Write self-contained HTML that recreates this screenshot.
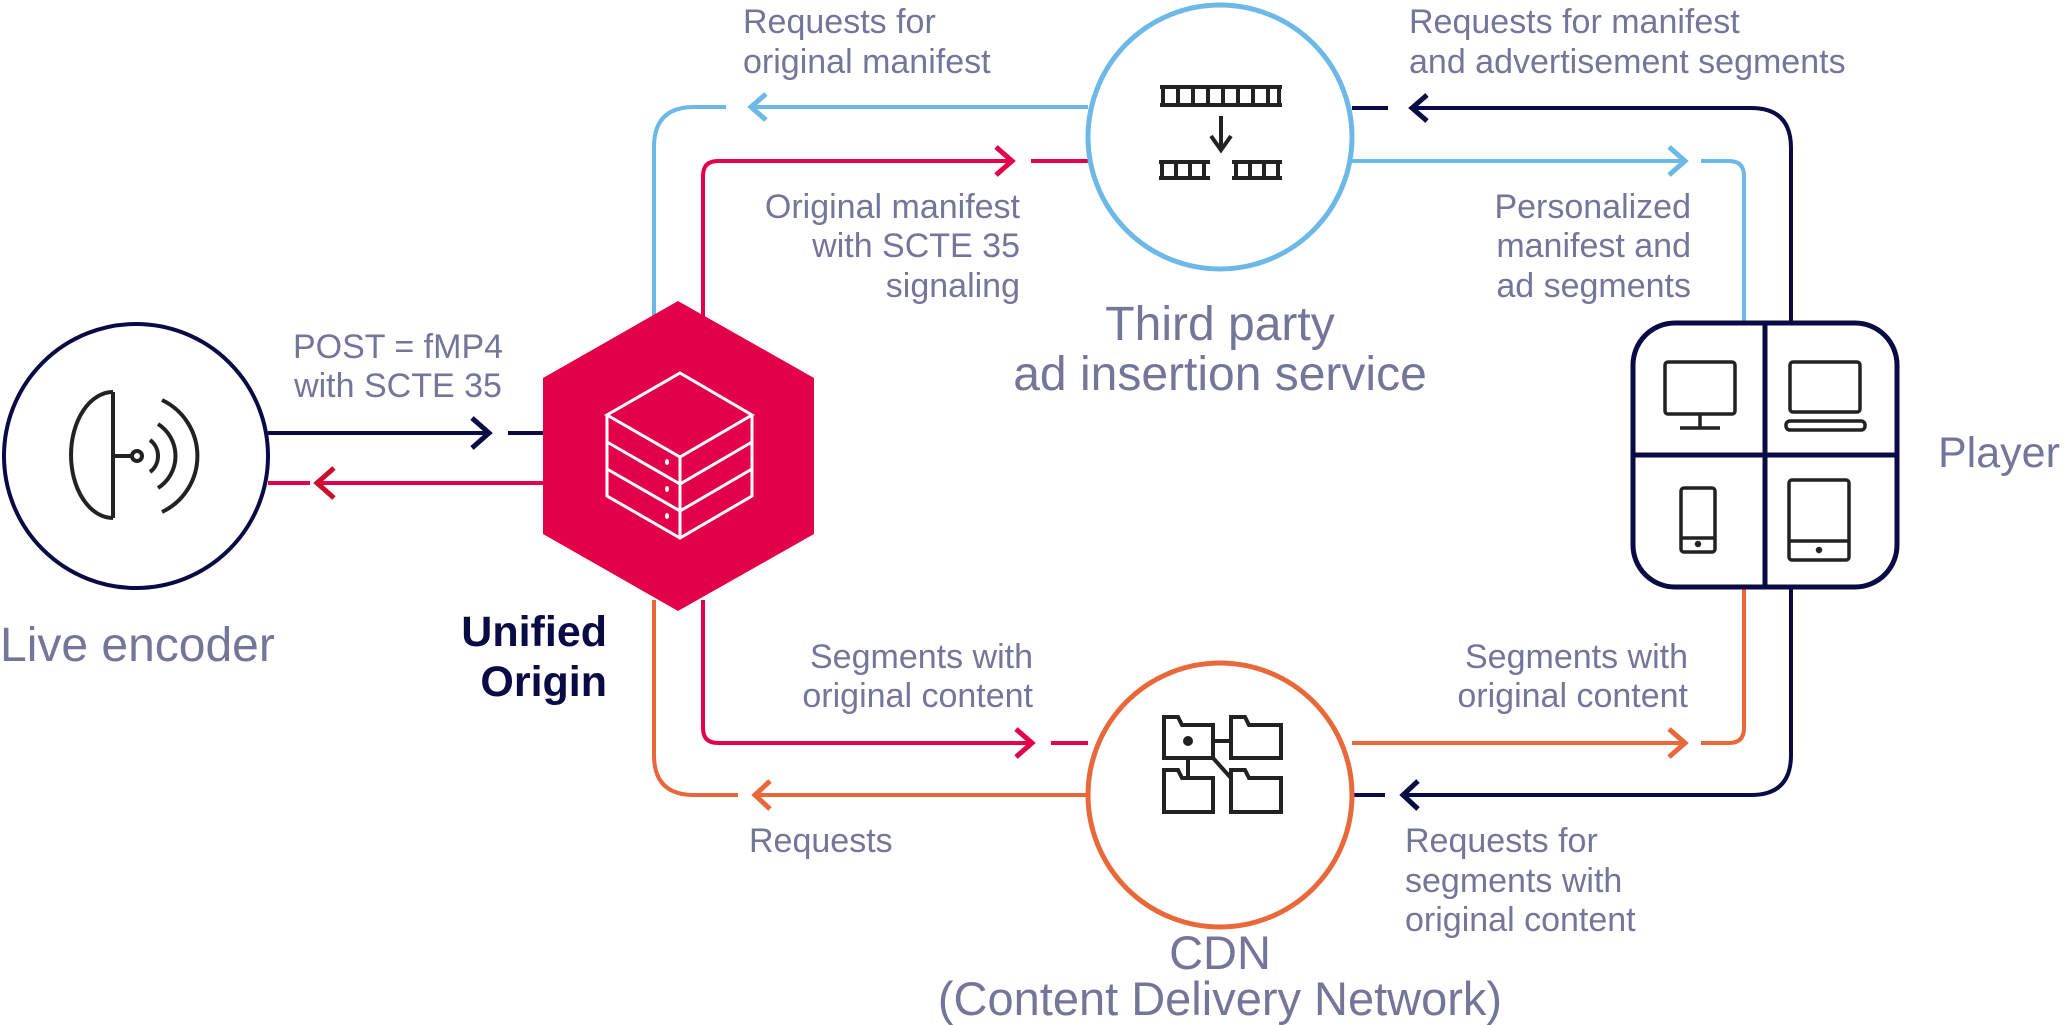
<!DOCTYPE html>
<html><head><meta charset="utf-8"><style>
html,body{margin:0;padding:0;background:#fff;}
svg{display:block}
text{font-family:"Liberation Sans",sans-serif;fill:#75759a;}
.l{font-size:34px}
</style></head><body>
<svg width="2068" height="1025" viewBox="0 0 2068 1025" xmlns="http://www.w3.org/2000/svg">
<g fill="none" stroke-width="4">
<circle cx="136" cy="456" r="132" stroke="#0a0a45"/>
<g stroke="#222" stroke-width="4">
<line x1="113" y1="392" x2="113" y2="518"/>
<path d="M113 392 A42 63 0 0 0 113 518"/>
<line x1="113" y1="456" x2="131" y2="456"/>
<circle cx="137" cy="456" r="5"/>
<path d="M150 440 A20 20 0 0 1 150 472"/>
<path d="M158 424 A38 38 0 0 1 158 488"/>
<path d="M162 400 A62 62 0 0 1 162 512"/>
</g>
<path d="M268 433 H488" stroke="#0a0a45"/>
<path d="M472 418 L489 433 L472 448" stroke="#0a0a45" stroke-width="5"/>
<path d="M508 433 H545" stroke="#0a0a45"/>
<path d="M545 483 H318" stroke="#e3004a"/>
<path d="M334 468 L317 483 L334 498" stroke="#c8102e" stroke-width="5"/>
<path d="M268 483 H310" stroke="#e3004a"/>
<path d="M654 320 V147 Q654 107 694 107 H726" stroke="#6cb8e6"/>
<path d="M1088 107 H751" stroke="#6cb8e6"/>
<path d="M766 94 L751 107 L766 120" stroke="#6cb8e6" stroke-width="5"/>
<path d="M703 320 V176 Q703 161 718 161 H1011" stroke="#e3004a"/>
<path d="M996 147 L1012 161 L996 175" stroke="#e3004a" stroke-width="5"/>
<path d="M1031 161 H1088" stroke="#e3004a"/>
<path d="M654 600 V755 Q654 795 694 795 H738" stroke="#e8683a"/>
<path d="M1088 795 H755" stroke="#e8683a"/>
<path d="M770 781 L755 795 L770 809" stroke="#e8683a" stroke-width="5"/>
<path d="M703 600 V728 Q703 743 718 743 H1031" stroke="#e3004a"/>
<path d="M1016 729 L1032 743 L1016 757" stroke="#e3004a" stroke-width="5"/>
<path d="M1051 743 H1088" stroke="#e3004a"/>
<path d="M1352 108 H1388" stroke="#0a0a45"/>
<path d="M1413 108 H1751 Q1791 108 1791 148 V323" stroke="#0a0a45"/>
<path d="M1427 95 L1412 108 L1427 121" stroke="#0a0a45" stroke-width="5"/>
<path d="M1352 161 H1684" stroke="#6cb8e6"/>
<path d="M1669 147 L1685 161 L1669 175" stroke="#6cb8e6" stroke-width="5"/>
<path d="M1701 161 H1729 Q1744 161 1744 176 V323" stroke="#6cb8e6"/>
<path d="M1352 743 H1684" stroke="#e8683a"/>
<path d="M1669 729 L1685 743 L1669 757" stroke="#e8683a" stroke-width="5"/>
<path d="M1701 743 H1729 Q1744 743 1744 728 V587" stroke="#e8683a"/>
<path d="M1791 587 V755 Q1791 795 1751 795 H1404" stroke="#0a0a45"/>
<path d="M1418 781 L1403 795 L1418 809" stroke="#0a0a45" stroke-width="5"/>
<path d="M1352 795 H1385" stroke="#0a0a45"/>
<circle cx="1220" cy="137" r="132" fill="#fff" stroke="#6cb8e6" stroke-width="5"/>
<g stroke="#222" stroke-width="4">
<path d="M1160 87 H1282 M1160 105 H1282 M1163 87 V105 M1178 87 V105 M1193 87 V105 M1208 87 V105 M1223 87 V105 M1238 87 V105 M1253 87 V105 M1268 87 V105 M1279 87 V105"/>
<path d="M1221 116 V150 M1211 136 L1221 150 L1231 136"/>
<path d="M1159 162 H1210 M1159 178 H1210 M1162 162 V178 M1176 162 V178 M1190 162 V178 M1204 162 V178"/>
<path d="M1232 162 H1282 M1232 178 H1282 M1236 162 V178 M1250 162 V178 M1264 162 V178 M1278 162 V178"/>
</g>
<circle cx="1220" cy="795" r="132" fill="#fff" stroke="#e8683a" stroke-width="5"/>
<g stroke="#222" stroke-width="4" fill="#fff">
<path d="M1164 717 H1178 L1182 725 H1213 V758 H1164 Z"/>
<path d="M1231 717 H1245 L1249 725 H1281 V758 H1231 Z"/>
<path d="M1164 770 H1178 L1182 778 H1213 V812 H1164 Z"/>
<path d="M1231 770 H1245 L1249 778 H1281 V812 H1231 Z"/>
<path d="M1213 741 H1231 M1188 758 V778 M1213 758 L1231 778"/>
<circle cx="1188" cy="741" r="3" fill="#222"/>
</g>
<rect x="1633" y="323" width="264" height="264" rx="42" fill="#fff" stroke="#0a0a45" stroke-width="5"/>
<path d="M1765 323 V587 M1633 455 H1897" stroke="#0a0a45" stroke-width="5"/>
<g stroke="#222" stroke-width="3.5">
<rect x="1665" y="362" width="70" height="52" rx="3"/>
<path d="M1700 414 V427 M1680 428 H1720"/>
<rect x="1790" y="362" width="70" height="50" rx="3"/>
<rect x="1786" y="421" width="79" height="9" rx="4"/>
<rect x="1681" y="488" width="34" height="64" rx="3"/>
<path d="M1681 538 H1715"/>
<circle cx="1698" cy="544" r="1.5" fill="#222"/>
<rect x="1789" y="480" width="60" height="80" rx="3"/>
<path d="M1789 541 H1849"/>
<circle cx="1819" cy="550" r="1.5" fill="#222"/>
</g>
<polygon points="678,301 814,378 814,534 678,611 543,534 543,378" fill="#e3004a" stroke="none"/>
<g stroke="#fff" stroke-width="3">
<path d="M680 373 L752 415 L680 457 L607 415 Z"/>
<path d="M607 415 V496 L680 538 L752 496 V415 M680 457 V538"/>
<path d="M607 442 L680 484 L752 442 M607 469 L680 511 L752 469"/>
</g>
<g fill="#fff"><ellipse cx="667" cy="462" rx="2" ry="3"/><ellipse cx="667" cy="489" rx="2" ry="3"/><ellipse cx="667" cy="516" rx="2" ry="3"/></g>
</g>
<text x="0" y="661" font-size="48">Live encoder</text>
<text x="607" y="646" font-size="43" font-weight="bold" text-anchor="end" style="fill:#0a0a45">Unified</text>
<text x="607" y="696" font-size="43" font-weight="bold" text-anchor="end" style="fill:#0a0a45">Origin</text>
<text class="l" x="398" y="358" text-anchor="middle">POST = fMP4</text>
<text class="l" x="398" y="397" text-anchor="middle">with SCTE 35</text>
<text class="l" x="743" y="33">Requests for</text>
<text class="l" x="743" y="73">original manifest</text>
<text class="l" x="1020" y="218" text-anchor="end">Original manifest</text>
<text class="l" x="1020" y="257" text-anchor="end">with SCTE 35</text>
<text class="l" x="1020" y="297" text-anchor="end">signaling</text>
<text x="1220" y="340" font-size="48" text-anchor="middle">Third party</text>
<text x="1220" y="390" font-size="48" text-anchor="middle">ad insertion service</text>
<text class="l" x="1409" y="33">Requests for manifest</text>
<text class="l" x="1409" y="73">and advertisement segments</text>
<text class="l" x="1691" y="218" text-anchor="end">Personalized</text>
<text class="l" x="1691" y="257" text-anchor="end">manifest and</text>
<text class="l" x="1691" y="297" text-anchor="end">ad segments</text>
<text x="1938" y="467" font-size="43">Player</text>
<text class="l" x="1033" y="668" text-anchor="end">Segments with</text>
<text class="l" x="1033" y="707" text-anchor="end">original content</text>
<text class="l" x="749" y="852">Requests</text>
<text class="l" x="1688" y="668" text-anchor="end">Segments with</text>
<text class="l" x="1688" y="707" text-anchor="end">original content</text>
<text class="l" x="1405" y="852">Requests for</text>
<text class="l" x="1405" y="892">segments with</text>
<text class="l" x="1405" y="931">original content</text>
<text x="1220" y="969" font-size="47" text-anchor="middle">CDN</text>
<text x="1220" y="1015" font-size="47" text-anchor="middle">(Content Delivery Network)</text>
</svg>
</body></html>
